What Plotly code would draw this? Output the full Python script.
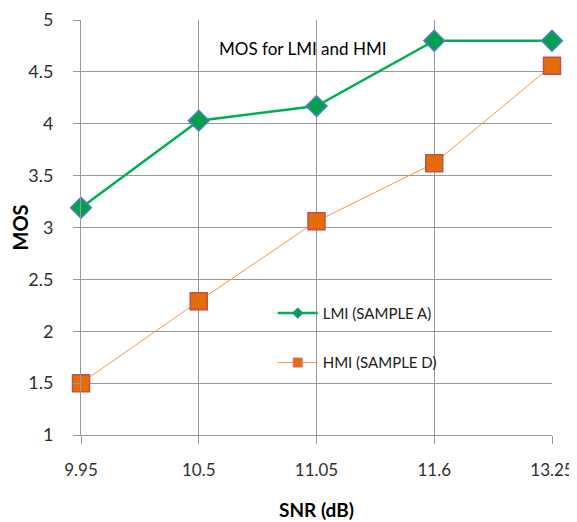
import plotly.graph_objects as go

snr = ["9.95", "10.5", "11.05", "11.6", "13.25"]
lmi = [3.19, 4.03, 4.17, 4.80, 4.80]
hmi = [1.50, 2.29, 3.06, 3.62, 4.56]
y_ticks = [1, 1.5, 2, 2.5, 3, 3.5, 4, 4.5, 5]
y_labels = ["1", "1.5", "2", "2.5", "3", "3.5", "4", "4.5", "5"]
names = ["LMI (SAMPLE A)", "HMI (SAMPLE D)"]

FONT = "Lato, 'Open Sans', sans-serif"
LMI_LINE = dict(color="#00B050", width=2.5)
HMI_LINE = dict(color="#F79646", width=1)

fig = go.Figure()
fig.add_trace(go.Scatter(
    x=snr, y=lmi, mode="lines+markers", name=names[0], showlegend=False,
    cliponaxis=False, line=LMI_LINE,
    marker=dict(symbol="diamond", size=16, color="#00A050",
                line=dict(color="#4F81BD", width=1.5)),
))
fig.add_trace(go.Scatter(
    x=snr, y=hmi, mode="lines+markers", name=names[1], showlegend=False,
    cliponaxis=False, line=HMI_LINE,
    marker=dict(symbol="square", size=17, color="#E46C0A",
                line=dict(color="#C0504D", width=1.5)),
))
# legend entries (small markers like the reference legend)
fig.add_trace(go.Scatter(
    x=[None], y=[None], mode="lines+markers", name=names[0], legendgroup="a",
    line=LMI_LINE,
    marker=dict(symbol="diamond", size=8, color="#00A050",
                line=dict(color="#4F81BD", width=1)),
))
fig.add_trace(go.Scatter(
    x=[None], y=[None], mode="lines+markers", name=names[1], legendgroup="b",
    line=HMI_LINE,
    marker=dict(symbol="square", size=9, color="#E46C0A",
                line=dict(color="#E07070", width=1)),
))

fig.update_layout(
    width=577, height=522,
    margin=dict(l=73, r=33, t=12, b=95, autoexpand=False),
    paper_bgcolor="white", plot_bgcolor="white",
    font=dict(family=FONT, color="#000000"),
    showlegend=True,
    legend=dict(x=0.407, y=0.333, xanchor="left", yanchor="top",
                bgcolor="rgba(0,0,0,0)", font=dict(size=15, color="#202020"),
                tracegroupgap=27, itemwidth=40),
    annotations=[dict(text="MOS for LMI and HMI", x=0.47, y=4.73, xref="paper", yref="y",
                      xanchor="center", yanchor="middle", showarrow=False,
                      font=dict(size=17, color="#000000", family=FONT))],
)
fig.update_xaxes(
    type="category", range=[0, 4], automargin=False,
    showgrid=True, gridcolor="#999999", gridwidth=1,
    showline=True, linecolor="#999999", linewidth=1,
    ticks="outside", ticklen=8, tickcolor="#999999", ticklabelstandoff=12,
    tickfont=dict(size=17, color="#303030"),
    title=dict(text="<b>SNR (dB)</b>", font=dict(size=19, color="#000000"), standoff=24),
    zeroline=False,
)
fig.update_yaxes(
    range=[1, 5], tickvals=y_ticks, ticktext=y_labels, automargin=False,
    showgrid=True, gridcolor="#999999", gridwidth=1,
    showline=True, linecolor="#999999", linewidth=1,
    ticks="outside", ticklen=7, tickcolor="#999999", ticklabelstandoff=16,
    tickfont=dict(size=18, color="#303030"),
    title=dict(text="<b>MOS</b>", font=dict(size=20, color="#000000"), standoff=4),
    zeroline=False,
)

fig.write_html("out.html")
